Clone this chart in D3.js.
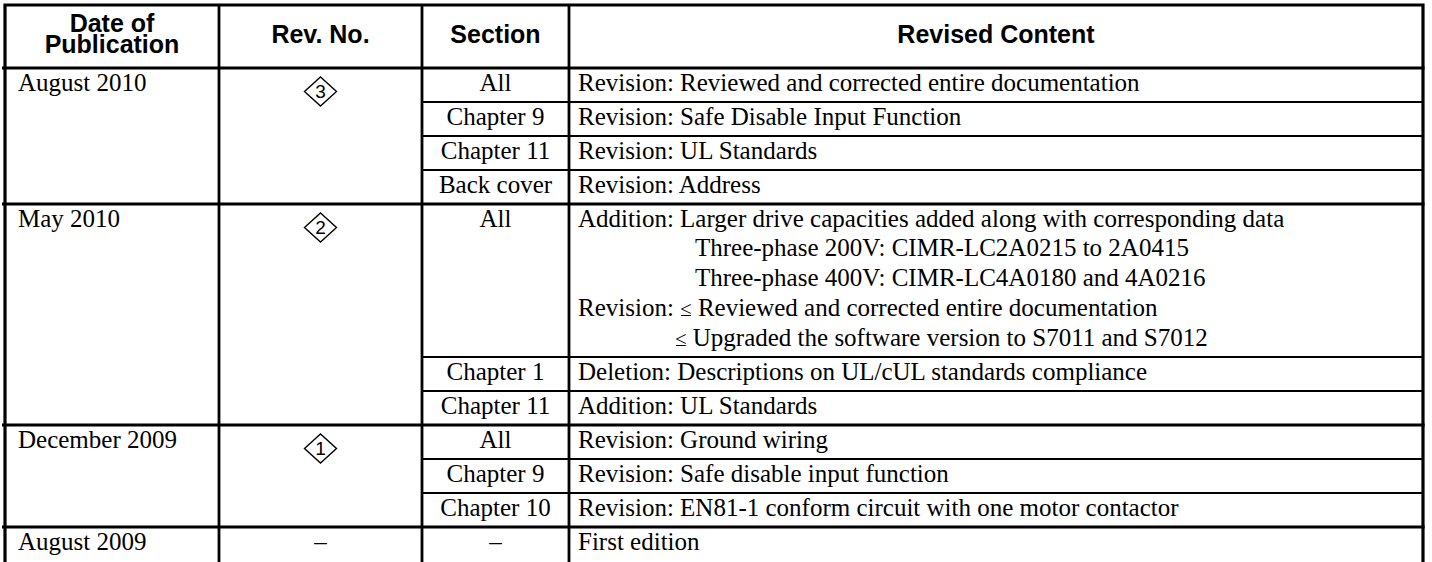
<!DOCTYPE html>
<html><head><meta charset="utf-8">
<script src="https://cdn.jsdelivr.net/npm/d3@7"></script>
<style>html,body{margin:0;padding:0;background:#fff;overflow:hidden}svg{display:block}</style>
</head><body>
<svg id="c" width="1432" height="562"></svg>
<script>
// ---- data ----
const headers = ["Date of\nPublication", "Rev. No.", "Section", "Revised Content"];
const dates = ["August 2010", "May 2010", "December 2009", "August 2009"];
const revNos = ["3", "2", "1", "–"];
const sections = [
  ["All", "Chapter 9", "Chapter 11", "Back cover"],
  ["All", "Chapter 1", "Chapter 11"],
  ["All", "Chapter 9", "Chapter 10"],
  ["–"]
];
// "\t" = indented continuation, "\t\t" = bullet continuation
const contents = [
  [["Revision: Reviewed and corrected entire documentation"],
   ["Revision: Safe Disable Input Function"],
   ["Revision: UL Standards"],
   ["Revision: Address"]],
  [["Addition: Larger drive capacities added along with corresponding data",
    "\tThree-phase 200V: CIMR-LC2A0215 to 2A0415",
    "\tThree-phase 400V: CIMR-LC4A0180 and 4A0216",
    "Revision: ≤ Reviewed and corrected entire documentation",
    "\t\t≤ Upgraded the software version to S7011 and S7012"],
   ["Deletion: Descriptions on UL/cUL standards compliance"],
   ["Addition: UL Standards"]],
  [["Revision: Ground wiring"],
   ["Revision: Safe disable input function"],
   ["Revision: EN81-1 conform circuit with one motor contactor"]],
  [["First edition"]]
];

// ---- layout ----
const W = 1432, H = 562;
const topY = 5, headerBottom = 68, rowH = 34, lineStep = 29.75;
const colEdges = [5, 219, 422, 569, 1423];
const serif = "'Liberation Serif','Times New Roman',serif";
const sans = "'Liberation Sans',Arial,sans-serif";
const bodySize = 25, headSize = 25;

const svg = d3.select("#c");
svg.append("rect").attr("width", W).attr("height", H).attr("fill", "#fff");

const subRows = [];
let units = 0;
const groupStarts = [];
sections.forEach((secs, g) => {
  groupStarts.push(units);
  secs.forEach((s, i) => {
    const lines = contents[g][i];
    const hUnits = (rowH + (lines.length - 1) * lineStep) / rowH;
    subRows.push({g, i, section: s, lines, start: units, end: units + hUnits});
    units += hUnits;
  });
});
const y = d3.scaleLinear().domain([0, units]).range([headerBottom, headerBottom + units * rowH]);
const x = d3.scaleOrdinal().domain(d3.range(colEdges.length)).range(colEdges);
const colCenter = c => (x(c) + x(c + 1)) / 2;

const gLines = svg.append("g").attr("stroke", "#000").attr("fill", "none");
subRows.forEach(r => {
  if (r.i > 0) {
    gLines.append("line").attr("x1", x(2)).attr("x2", x(4))
      .attr("y1", y(r.start)).attr("y2", y(r.start)).attr("stroke-width", 2.2);
  }
});
groupStarts.forEach(u => {
  gLines.append("line").attr("x1", 2).attr("x2", x(4) + 1.5)
    .attr("y1", y(u)).attr("y2", y(u)).attr("stroke-width", 3);
});
[1, 2, 3].forEach(c => {
  gLines.append("line").attr("x1", x(c)).attr("x2", x(c))
    .attr("y1", topY).attr("y2", H + 5).attr("stroke-width", 2.8);
});
gLines.append("path")
  .attr("d", `M${x(0)},${H + 5}V${topY}H${x(4)}V${H + 5}`)
  .attr("stroke-width", 3.2);

const gh = svg.append("g").attr("font-family", sans).attr("font-weight", "bold")
  .attr("font-size", headSize).attr("text-anchor", "middle").attr("fill", "#000");
headers.forEach((h, c) => {
  const parts = h.split("\n");
  const mid = 33.5;
  const lead = 21;
  parts.forEach((p, k) => {
    const base = mid + 9 + (k - (parts.length - 1) / 2) * lead;
    gh.append("text").attr("x", colCenter(c)).attr("y", base).text(p);
  });
});

const gb = svg.append("g").attr("font-family", serif).attr("font-size", bodySize).attr("fill", "#000");
dates.forEach((d, g) => {
  const t = y(groupStarts[g]);
  gb.append("text").attr("x", x(0) + 13).attr("y", t + 22.5).text(d);
  const cx = colCenter(1);
  if (revNos[g] === "–") {
    gb.append("text").attr("x", cx).attr("y", t + 22.5).attr("text-anchor", "middle").text("–");
  } else {
    const cy = t + 23.5, hw = 16, hh = 14.5;
    svg.append("path")
      .attr("d", `M${cx - hw},${cy}L${cx},${cy - hh}L${cx + hw},${cy}L${cx},${cy + hh}Z`)
      .attr("fill", "none").attr("stroke", "#000").attr("stroke-width", 1.4);
    svg.append("text").attr("x", cx).attr("y", cy + 6.8).attr("text-anchor", "middle")
      .attr("font-family", sans).attr("font-size", 19).text(revNos[g]);
  }
});
const indentA = 117, indentB = 97;
const cx0 = x(3) + 9;
subRows.forEach(r => {
  const t = y(r.start);
  gb.append("text").attr("x", colCenter(2)).attr("y", t + 22.5)
    .attr("text-anchor", "middle").text(r.section);
  r.lines.forEach((ln, k) => {
    let ind = 0, s = ln;
    if (s.startsWith("\t\t")) { ind = indentB; s = s.slice(2); }
    else if (s.startsWith("\t")) { ind = indentA; s = s.slice(1); }
    const txt = gb.append("text").attr("x", cx0 + ind).attr("y", t + 22.5 + k * lineStep)
      .attr("xml:space", "preserve");
    const parts = s.split("≤");
    parts.forEach((p, j) => {
      if (j > 0) txt.append("tspan").attr("font-size", 21).attr("font-style", "italic").text("≤");
      if (p) txt.append("tspan").attr("font-size", bodySize).attr("font-style", "normal").text(p);
    });
  });
});
</script>
</body></html>
